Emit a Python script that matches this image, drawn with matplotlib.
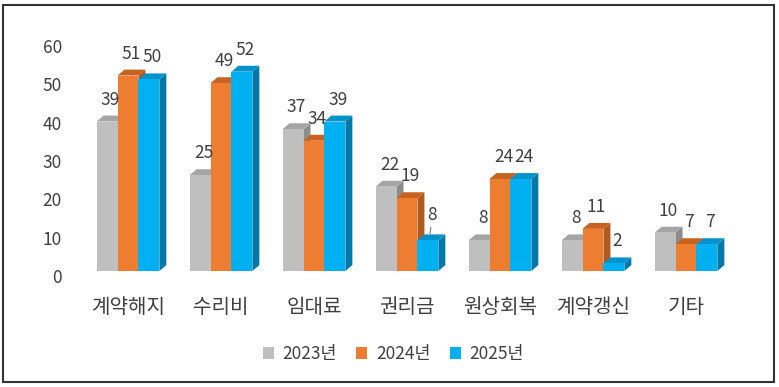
import matplotlib
matplotlib.use("Agg")
import matplotlib.pyplot as plt
from matplotlib.patches import Polygon, Rectangle
import numpy as np

plt.rcParams['font.family'] = ['Noto Sans CJK KR', 'DejaVu Sans']

categories = ['계약해지', '수리비', '임대료', '권리금', '원상회복', '계약갱신', '기타']
series_names = ['2023년', '2024년', '2025년']
v2023 = [39, 25, 37, 22, 8, 8, 10]
v2024 = [51, 49, 34, 19, 24, 11, 7]
v2025 = [50, 52, 39, 8, 24, 2, 7]
series = [v2023, v2024, v2025]
yticks = [0, 10, 20, 30, 40, 50, 60]

front = ['#BFBFBF', '#ED7D31', '#00B0F0']
side = ['#8C8C8C', '#AE5A21', '#0079A8']
top = ['#A5A5A5', '#C7621F', '#0093CB']
txt = '#404040'

fig = plt.figure(figsize=(7.79, 3.87), dpi=100)
ax = fig.add_axes([0.1046, 0.2868, 0.8357, 0.5943])
ax.set_xlim(-0.5, len(categories) - 0.5)
ax.set_ylim(0, 60)

w = 0.225
dx = 0.075   # depth (x, data units)
dy = 1.55    # depth (y, data units)
lift = 1.3   # front face lift

x = np.arange(len(categories))
for c in range(len(categories)):
    for s in range(3):
        v = series[s][c]
        x0 = x[c] + (s - 1.5) * w
        x1 = x0 + w
        b = lift
        t = lift + v
        ax.add_patch(Polygon([(x1, b), (x1 + dx, b + dy), (x1 + dx, t + dy), (x1, t)],
                             closed=True, facecolor=side[s], edgecolor='none', zorder=2))
        ax.add_patch(Polygon([(x0, t), (x0 + dx, t + dy), (x1 + dx, t + dy), (x1, t)],
                             closed=True, facecolor=top[s], edgecolor='none', zorder=2))
        ax.add_patch(Rectangle((x0, b), w, v, facecolor=front[s], edgecolor='none', zorder=2))
        lx = x0 + w / 2 + dx / 2
        ly = t + dy
        if c == 3 and s == 2:
            ax.annotate(str(v), xy=(lx - 0.015, ly + 0.2), xytext=(lx + 0.01, ly + 2.6),
                        ha='center', va='bottom', fontsize=12.5, color=txt,
                        arrowprops=dict(arrowstyle='-', color='#7F7F7F', lw=0.8,
                                        shrinkA=0, shrinkB=0), zorder=5)
        else:
            ax.annotate(str(v), (lx, ly), xytext=(0, 5), textcoords='offset points',
                        ha='center', va='bottom', fontsize=12.5, color=txt, zorder=5)

for sp in ax.spines.values():
    sp.set_visible(False)
ax.set_yticks(yticks)
ax.set_yticklabels([str(t) for t in yticks])
ax.set_xticks(x)
ax.set_xticklabels(categories)
ax.tick_params(axis='y', length=0, pad=14, labelsize=12.5, labelcolor=txt)
ax.tick_params(axis='x', length=0, pad=15, labelsize=14.5, labelcolor=txt)

handles = [Rectangle((0, 0), 1, 1, facecolor=front[i], edgecolor='none') for i in range(3)]
fig.legend(handles, series_names, loc='center', bbox_to_anchor=(0.505, 0.085), ncol=3,
           frameon=False, fontsize=12.5, handlelength=0.65, handleheight=0.65,
           handletextpad=0.5, columnspacing=1.1, labelcolor=txt)

fig.patches.append(Rectangle((3 / 779, 1 - 382 / 387), 771 / 779, 377 / 387,
                             transform=fig.transFigure, fill=False,
                             edgecolor='#333333', linewidth=1.5))

fig.savefig('out.png', dpi=100)
